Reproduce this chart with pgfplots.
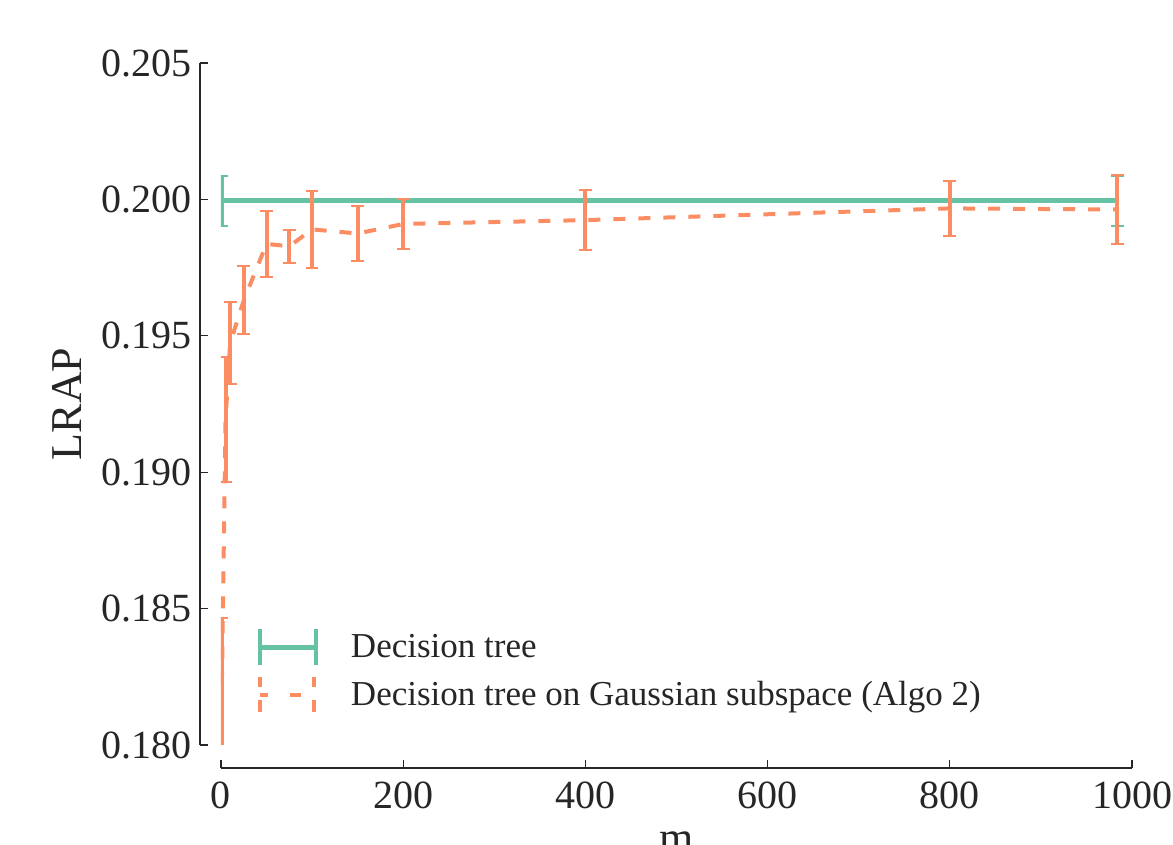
\documentclass[border=0pt]{standalone}
\usepackage{fontspec}
\setmainfont{Liberation Serif}
\usepackage{pgfplots}
\pgfplotsset{compat=1.18}
\definecolor{dtgreen}{RGB}{102,194,165}
\definecolor{dtorange}{RGB}{252,141,98}
\definecolor{spine}{RGB}{38,38,38}

\begin{document}
\begin{tikzpicture}
\begin{axis}[
    scale only axis,
    width=455.5pt, height=341pt,
    xmin=0, xmax=1000,
    ymin=0.180, ymax=0.205,
    axis x line=bottom, axis y line=left,
    axis x line shift=11.5pt, axis y line shift=10.5pt,
    axis line style={-, line width=1.4pt, draw=spine},
    tick align=inside,
    major tick length=4pt,
    tick style={line width=0.6pt, draw=spine},
    xtick={0,200,400,600,800,1000},
    ytick={0.180,0.185,0.190,0.195,0.200,0.205},
    scaled y ticks=false,
    /pgf/number format/assume math mode=true,
    /pgf/number format/1000 sep={},
    yticklabel style={/pgf/number format/fixed, /pgf/number format/fixed zerofill,
        /pgf/number format/precision=3, inner sep=0pt, xshift=-4pt},
    xticklabel style={inner sep=0pt, yshift=-7pt},
    tick label style={font=\fontsize{20}{24}\selectfont, text=spine},
    ylabel={LRAP}, xlabel={m},
    label style={font=\fontsize{22}{26}\selectfont, text=spine},
    ylabel style={at={(axis description cs:-0.1526,0.5)}, rotate=0, anchor=base},
    xlabel style={at={(axis description cs:0.5,-0.157)}, anchor=base},
    legend style={draw=none, fill=none, inner sep=0pt, outer sep=0pt,
        at={(rel axis cs:0.0406,0.173)}, anchor=north west,
        font=\fontsize{17.5}{21}\selectfont, text=spine,
        nodes={inner sep=0pt}, row sep=4pt, column sep=16pt},
    legend cell align=left,
]
\coordinate (ll) at (rel axis cs:0,0);
\coordinate (ur) at (rel axis cs:1,1);

\addplot[color=dtgreen, line width=2.5pt, no markers,
    error bars/.cd, y dir=both, y explicit,
    error bar style={line width=2pt, color=dtgreen},
    error mark options={rotate=90, line width=1pt, mark size=3.2pt, color=dtgreen},
    /pgfplots/legend image code/.code={
        \draw[line width=2.5pt, color=dtgreen] (0pt,0pt) -- (28pt,0pt);
        \draw[line width=2pt, color=dtgreen] (0pt,-9pt) -- (0pt,9pt) (28pt,-9pt) -- (28pt,9pt);
    }]
table[x=m, y=v, y error=e] {
m v e
1 0.19995 0.00092
984 0.19995 0.00092
};
\addlegendentry{Decision tree}

\addplot[color=dtorange, line width=2pt, no markers, dash pattern=on 6pt off 6.5pt,
    error bars/.cd, y dir=both, y explicit,
    error bar style={line width=2pt, color=dtorange, solid},
    error mark options={rotate=90, line width=1pt, mark size=3.2pt, color=dtorange, solid},
    /pgfplots/legend image code/.code={
        \draw[line width=2pt, color=dtorange] (0pt,0pt) -- (4pt,0pt) (15pt,0pt) -- (20.5pt,0pt);
        \draw[line width=2pt, color=dtorange] (0pt,-8.75pt) -- (0pt,8.75pt) (27pt,-8.75pt) -- (27pt,8.75pt);
    }]
table[x=m, y=v, y error=e] {
m v e
1 0.18226 0.00238
5 0.19194 0.00229
10 0.19473 0.00150
25 0.19630 0.00125
50 0.19837 0.00120
75 0.19828 0.00060
100 0.19890 0.00140
150 0.19875 0.00102
200 0.19910 0.00093
400 0.19924 0.00110
800 0.19967 0.00100
984 0.19963 0.00125
};
\addlegendentry{Decision tree on Gaussian subspace (Algo 2)}
\end{axis}
\pgfresetboundingbox
\path ([xshift=-110.5pt,yshift=-50pt]ll) rectangle ([xshift=20.5pt,yshift=31.5pt]ur);
\end{tikzpicture}
\end{document}
